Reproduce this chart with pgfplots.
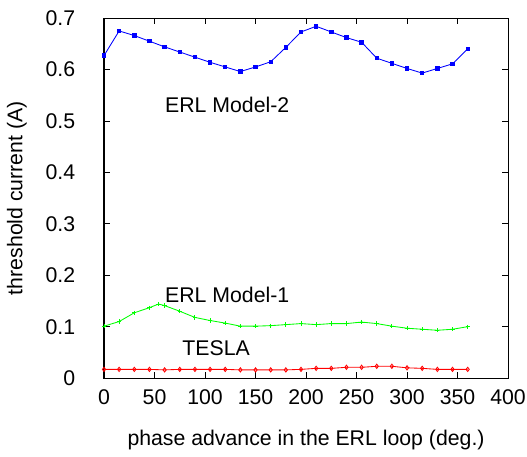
\documentclass[border=0pt]{standalone}
\usepackage{fontspec}
\setmainfont{Liberation Sans}
\usepackage{pgfplots}
\pgfplotsset{compat=1.18}

\begin{document}
\begin{tikzpicture}
\begin{axis}[
    name=ax,
    scale only axis,
    width=190pt,
    height=169.3pt,
    xmin=0, xmax=400,
    ymin=0, ymax=0.7,
    xtick={0,50,...,400},
    ytick={0,0.1,...,0.7},
    tick align=inside,
    major tick length=3pt,
    tick style={black, line width=0.4pt},
    axis line style={line width=0.5pt},
    every tick label/.append style={font=\fontsize{10}{12}\selectfont},
    /pgf/number format/assume math mode=true,
    yticklabel style={/pgf/number format/fixed, /pgf/number format/precision=1, xshift=-10pt},
    xticklabel style={yshift=-2pt},
    xlabel={phase advance in the ERL loop (deg.)},
    ylabel={threshold current (A)},
    label style={font=\fontsize{10}{12}\selectfont},
    xlabel style={at={(axis description cs:0.5,0)}, anchor=center, yshift=-29pt},
    ylabel style={at={(axis description cs:0,0.5)}, anchor=center, yshift=41pt},
    clip=false,
]
    \addplot[blue, line width=0.4pt, mark=square*, mark size=0.8pt] coordinates {
      (0,0.627) (15,0.675) (30,0.666) (45,0.655) (60,0.644) (75,0.634)
      (90,0.624) (105,0.614) (120,0.605) (135,0.596) (150,0.605) (165,0.615)
      (180,0.643) (195,0.673) (210,0.684) (225,0.673) (240,0.662) (255,0.653)
      (270,0.622) (285,0.612) (300,0.602) (315,0.593) (330,0.602) (345,0.611)
      (360,0.640)};
    \addplot[green, line width=0.4pt, mark=+, mark size=1pt] coordinates {
      (0,0.101) (15,0.110) (30,0.127) (45,0.137) (54,0.144) (60,0.141)
      (75,0.130) (90,0.118) (105,0.112) (120,0.107) (135,0.101) (150,0.101)
      (165,0.102) (180,0.104) (195,0.106) (210,0.104) (225,0.106) (240,0.106)
      (255,0.109) (270,0.106) (285,0.101) (300,0.097) (315,0.095) (330,0.093)
      (345,0.095) (360,0.100)};
    \addplot[red, line width=0.4pt, mark=diamond, mark size=1pt] coordinates {
      (0,0.017) (15,0.017) (30,0.017) (45,0.017) (60,0.016) (75,0.017)
      (90,0.017) (105,0.017) (120,0.017) (135,0.016) (150,0.016) (165,0.016)
      (180,0.016) (195,0.017) (210,0.019) (225,0.019) (240,0.021) (255,0.021)
      (270,0.023) (285,0.023) (300,0.020) (315,0.019) (330,0.017) (345,0.017)
      (360,0.017)};
    \node[font=\fontsize{10}{12}\selectfont] at (axis cs:122,0.531) {ERL Model-2};
    \node[font=\fontsize{10}{12}\selectfont] at (axis cs:122,0.161) {ERL Model-1};
    \node[font=\fontsize{10}{12}\selectfont] at (axis cs:111,0.058) {TESLA};
\end{axis}
\pgfresetboundingbox
\path ([xshift=-48.9pt,yshift=-36.7pt]ax.south west) rectangle ([xshift=8.9pt,yshift=8.5pt]ax.north east);
\end{tikzpicture}
\end{document}
